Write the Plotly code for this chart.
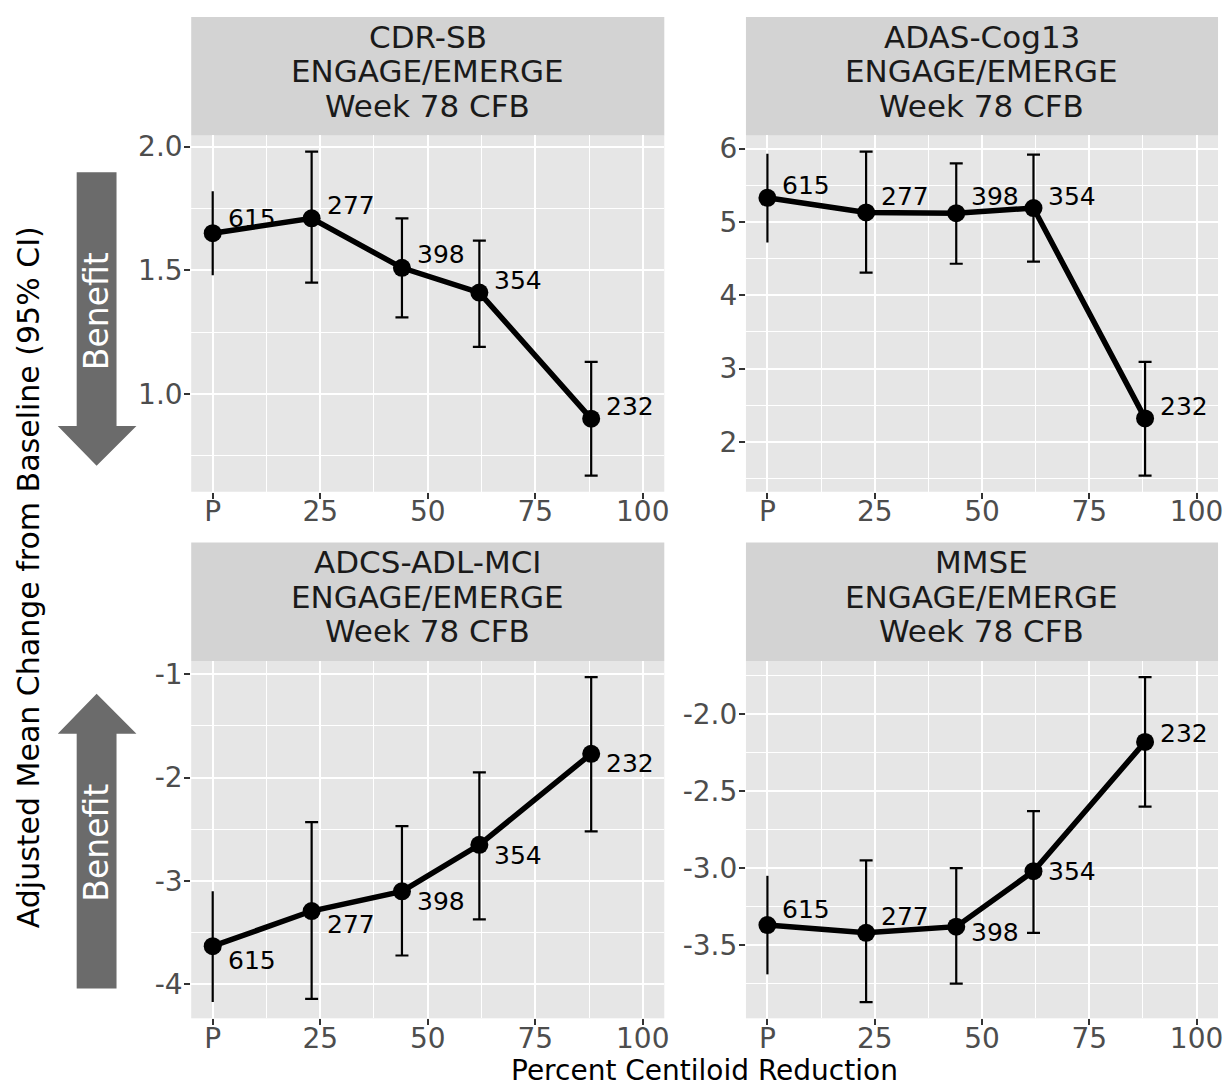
import plotly.graph_objects as go

# ---------------- data ----------------
x_pos = [0, 23, 44, 62, 88]
x_tick_vals = [0, 25, 50, 75, 100]
x_tick_text = ["P", "25", "50", "75", "100"]
n_labels = ["615", "277", "398", "354", "232"]

panel_titles = ["CDR-SB", "ADAS-Cog13", "ADCS-ADL-MCI", "MMSE"]
strip_sub1 = "ENGAGE/EMERGE"
strip_sub2 = "Week 78 CFB"

cdr_mean = [1.65, 1.71, 1.51, 1.41, 0.90]
cdr_lo = [1.48, 1.45, 1.31, 1.19, 0.67]
cdr_hi = [1.82, 1.98, 1.71, 1.62, 1.13]

adas_mean = [5.33, 5.13, 5.12, 5.19, 2.32]
adas_lo = [4.72, 4.31, 4.43, 4.46, 1.54]
adas_hi = [5.93, 5.96, 5.80, 5.92, 3.09]

adl_mean = [-3.63, -3.29, -3.10, -2.65, -1.77]
adl_lo = [-4.17, -4.14, -3.72, -3.37, -2.52]
adl_hi = [-3.10, -2.43, -2.47, -1.95, -1.03]

mmse_mean = [-3.37, -3.42, -3.38, -3.02, -2.18]
mmse_lo = [-3.69, -3.87, -3.75, -3.42, -2.60]
mmse_hi = [-3.05, -2.95, -3.00, -2.63, -1.76]

cdr_ticks = [1.0, 1.5, 2.0]
cdr_tick_text = ["1.0", "1.5", "2.0"]
cdr_minor = [0.75, 1.25, 1.75]
adas_ticks = [2, 3, 4, 5, 6]
adas_tick_text = ["2", "3", "4", "5", "6"]
adas_minor = [1.5, 2.5, 3.5, 4.5, 5.5]
adl_ticks = [-4, -3, -2, -1]
adl_tick_text = ["-4", "-3", "-2", "-1"]
adl_minor = [-3.5, -2.5, -1.5]
mmse_ticks = [-3.5, -3.0, -2.5, -2.0]
mmse_tick_text = ["-3.5", "-3.0", "-2.5", "-2.0"]
mmse_minor = [-3.75, -3.25, -2.75, -2.25, -1.75]

x_minor = [12.5, 37.5, 62.5, 87.5]

x_title = "Percent Centiloid Reduction"
y_title = "Adjusted Mean Change from Baseline (95% CI)"
arrow_text = "Benefit"

# ---------------- styles ----------------
W, H = 1229, 1086
FONT = "DejaVu Sans"
PANEL_BG = "#e6e6e6"
STRIP_BG = "#d3d3d3"
ARROW_COL = "#6b6b6b"

def px(x):
    return x / W

def py(y):
    return 1 - y / H

cols = [(192, 667), (749, 1223)]
rows = [(131, 489), (659, 1018)]
strip_rows = [(12, 131), (540, 659)]

# label nudges (pixels, + = down)
label_dy = [
    [-15, -13, -13, -12, -12],
    [-12, -16, -17, -12, -12],
    [14, 13, 10, 11, 10],
    [-16, -16, 6, 0, -8],
]

panels = [
    (cdr_mean, cdr_lo, cdr_hi, cdr_ticks, cdr_tick_text, cdr_minor),
    (adas_mean, adas_lo, adas_hi, adas_ticks, adas_tick_text, adas_minor),
    (adl_mean, adl_lo, adl_hi, adl_ticks, adl_tick_text, adl_minor),
    (mmse_mean, mmse_lo, mmse_hi, mmse_ticks, mmse_tick_text, mmse_minor),
]

fig = go.Figure()
layout = dict(
    width=W, height=H, autosize=False,
    margin=dict(l=0, r=0, t=0, b=0),
    paper_bgcolor="white", plot_bgcolor=PANEL_BG,
    showlegend=False,
    font=dict(family=FONT, color="black"),
)
annotations = []
shapes = []

for i, (mean, lo, hi, yt, ytt, ymin) in enumerate(panels):
    r, c = divmod(i, 2)
    sfx = "" if i == 0 else str(i + 1)
    xa, ya = "x" + sfx, "y" + sfx
    plus = [h - m for h, m in zip(hi, mean)]
    minus = [m - l for m, l in zip(mean, lo)]
    # error bars, capped (treatment groups)
    fig.add_trace(go.Scatter(
        x=x_pos[1:], y=mean[1:], mode="markers",
        marker=dict(size=1, color="rgba(0,0,0,0)"),
        error_y=dict(type="data", symmetric=False, array=plus[1:], arrayminus=minus[1:],
                     color="black", thickness=2.2, width=6.5),
        xaxis=xa, yaxis=ya, hoverinfo="skip"))
    # placebo error bar (no caps)
    fig.add_trace(go.Scatter(
        x=x_pos[:1], y=mean[:1], mode="markers",
        marker=dict(size=1, color="rgba(0,0,0,0)"),
        error_y=dict(type="data", symmetric=False, array=plus[:1], arrayminus=minus[:1],
                     color="black", thickness=2.2, width=0),
        xaxis=xa, yaxis=ya, hoverinfo="skip"))
    fig.add_trace(go.Scatter(
        x=x_pos, y=mean, mode="lines+markers",
        line=dict(color="black", width=5.5),
        marker=dict(size=18, color="black"),
        xaxis=xa, yaxis=ya))

    span = max(hi) - min(lo)
    yr = [min(lo) - 0.05 * span, max(hi) + 0.05 * span]
    x0, x1 = cols[c]
    y0, y1 = rows[r]
    common = dict(
        ticks="outside", ticklen=6, tickwidth=2, tickcolor="#333333",
        tickfont=dict(family=FONT, size=28, color="#4d4d4d"),
        showgrid=True, gridcolor="white", gridwidth=2,
        zeroline=False, showline=False,
    )
    layout["xaxis" + sfx] = dict(
        domain=[px(x0), px(x1)], range=[-5, 105], anchor=ya,
        tickmode="array", tickvals=x_tick_vals, ticktext=x_tick_text,
        minor=dict(tickvals=x_minor, showgrid=True, gridcolor="white", gridwidth=1, ticks=""),
        ticklabelstandoff=-11,
        **common)
    layout["yaxis" + sfx] = dict(
        domain=[py(y1), py(y0)], range=yr, anchor=xa,
        tickmode="array", tickvals=yt, ticktext=ytt,
        minor=dict(tickvals=ymin, showgrid=True, gridcolor="white", gridwidth=1, ticks=""),
        ticklabelstandoff=-4,
        **common)

    # data labels
    for k in range(len(x_pos)):
        annotations.append(dict(
            x=x_pos[k], y=mean[k], xref=xa, yref=ya, text=n_labels[k],
            showarrow=False, xanchor="left", yanchor="middle",
            xshift=13, yshift=-label_dy[i][k],
            font=dict(family=FONT, size=25, color="black")))

    # strip
    s0, s1 = strip_rows[r]
    shapes.append(dict(type="rect", xref="paper", yref="paper",
                       x0=px(x0), x1=px(x1), y0=py(s1), y1=py(s0),
                       fillcolor=STRIP_BG, line=dict(width=0), layer="below"))
    cx = (x0 + x1) / 2
    for j, txt in enumerate([panel_titles[i], strip_sub1, strip_sub2]):
        annotations.append(dict(
            x=px(cx), y=py(s0 + 20 + 34.5 * j), xref="paper", yref="paper",
            text=txt, showarrow=False, xanchor="center", yanchor="middle",
            font=dict(family=FONT, size=31, color="#1a1a1a")))

# axis titles
annotations.append(dict(x=px(707.5), y=py(1070), xref="paper", yref="paper",
                        text=x_title, showarrow=False, xanchor="center", yanchor="middle",
                        font=dict(family=FONT, size=28, color="black")))
annotations.append(dict(x=px(28), y=py(575), xref="paper", yref="paper",
                        text=y_title, showarrow=False, textangle=-90,
                        xanchor="center", yanchor="middle",
                        font=dict(family=FONT, size=30, color="black")))

# benefit arrows
def poly(points):
    return "M " + " L ".join(f"{px(a):.5f},{py(b):.5f}" for a, b in points) + " Z"

down_arrow = [(77, 168), (117, 168), (117, 423), (137, 423), (97, 463), (58, 423), (77, 423)]
up_arrow = [(97, 692), (137, 732), (117, 732), (117, 988), (77, 988), (77, 732), (58, 732)]
for pts in (down_arrow, up_arrow):
    shapes.append(dict(type="path", xref="paper", yref="paper", path=poly(pts),
                       fillcolor=ARROW_COL, line=dict(width=0)))
for yc in (308, 842):
    annotations.append(dict(x=px(97), y=py(yc), xref="paper", yref="paper",
                            text=arrow_text, showarrow=False, textangle=-90,
                            xanchor="center", yanchor="middle",
                            font=dict(family=FONT, size=33, color="white")))

layout["annotations"] = annotations
layout["shapes"] = shapes
fig.update_layout(**layout)
fig.write_html("out.html",
               config={"displayModeBar": False},
               post_script="document.body.style.margin='0px';document.body.style.overflow='hidden';")
